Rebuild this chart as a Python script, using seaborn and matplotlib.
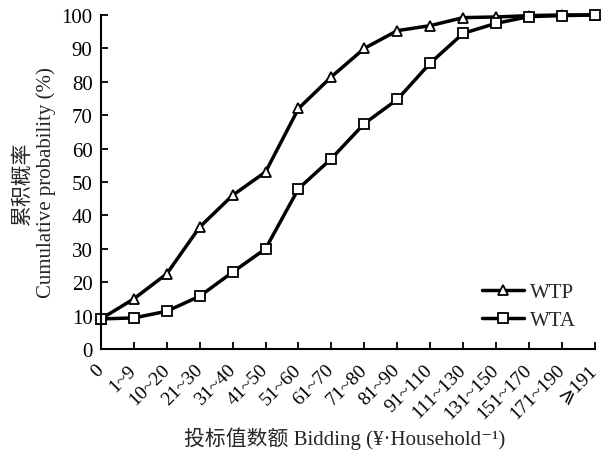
import matplotlib
matplotlib.use("Agg")
import matplotlib.pyplot as plt
import seaborn as sns
import pandas as pd
import numpy as np

categories = ["0", "1~9", "10~20", "21~30", "31~40", "41~50", "51~60", "61~70",
              "71~80", "81~90", "91~110", "111~130", "131~150", "151~170",
              "171~190", "⩾191"]
wtp = [9, 15, 22.5, 36.5, 46, 53, 72, 81.5, 90, 95.3, 96.8, 99.2, 99.4, 99.8, 100, 100]
wta = [9, 9.3, 11.3, 15.8, 23, 30, 48, 57, 67.5, 74.7, 85.6, 94.5, 97.5, 99.5, 99.8, 100]

sns.set_style("ticks")
plt.rcParams['font.family'] = ['Liberation Serif', 'Noto Sans CJK SC', 'DejaVu Serif', 'DejaVu Sans']

df = pd.DataFrame({
    "pos": list(range(len(categories))) * 2,
    "value": wtp + wta,
    "series": ["WTP"] * len(wtp) + ["WTA"] * len(wta),
})

fig = plt.figure(figsize=(6.04, 4.52), dpi=100)
ax = fig.add_axes([0.167, 0.2257, 0.818, 0.739])

sns.lineplot(data=df, x="pos", y="value", hue="series", style="series",
             markers={"WTP": "^", "WTA": "s"}, dashes=False,
             palette={"WTP": "black", "WTA": "black"},
             linewidth=2.5, markersize=7, markerfacecolor="white",
             markeredgecolor="black", markeredgewidth=1.3, ax=ax)
for ln in ax.get_lines():
    ln.set_clip_on(False)

ax.set_xlim(0, len(categories) - 1)
ax.set_ylim(0, 100)
ax.set_xticks(range(len(categories)))
ax.set_xticklabels(categories, rotation=45, ha="right", va="center",
                   rotation_mode="anchor", fontsize=14)
ax.set_yticks(range(0, 101, 10))
ax.tick_params(axis="y", labelsize=15, direction="in", length=5, width=1.3,
               colors="black", pad=6)
ax.tick_params(axis="x", direction="in", length=5, width=1.3, colors="black", pad=13)
for s in ["left", "bottom"]:
    ax.spines[s].set_linewidth(1.5)
    ax.spines[s].set_color("black")
sns.despine(ax=ax)

ax.set_ylabel("累积概率\nCumulative probability (%)", fontsize=15, labelpad=4)
ax.set_xlabel("投标值数额 Bidding (¥·Household⁻¹)", fontsize=15, va="center")
ax.xaxis.set_label_coords(0.494, -0.265)

leg = ax.legend(loc="lower right", bbox_to_anchor=(1.0, 0.0), frameon=False,
                fontsize=15, handlelength=2.0, handletextpad=0.3, labelspacing=0.4)
for line in leg.get_lines():
    line.set_linewidth(2.5)

fig.savefig("out.png", dpi=100)
